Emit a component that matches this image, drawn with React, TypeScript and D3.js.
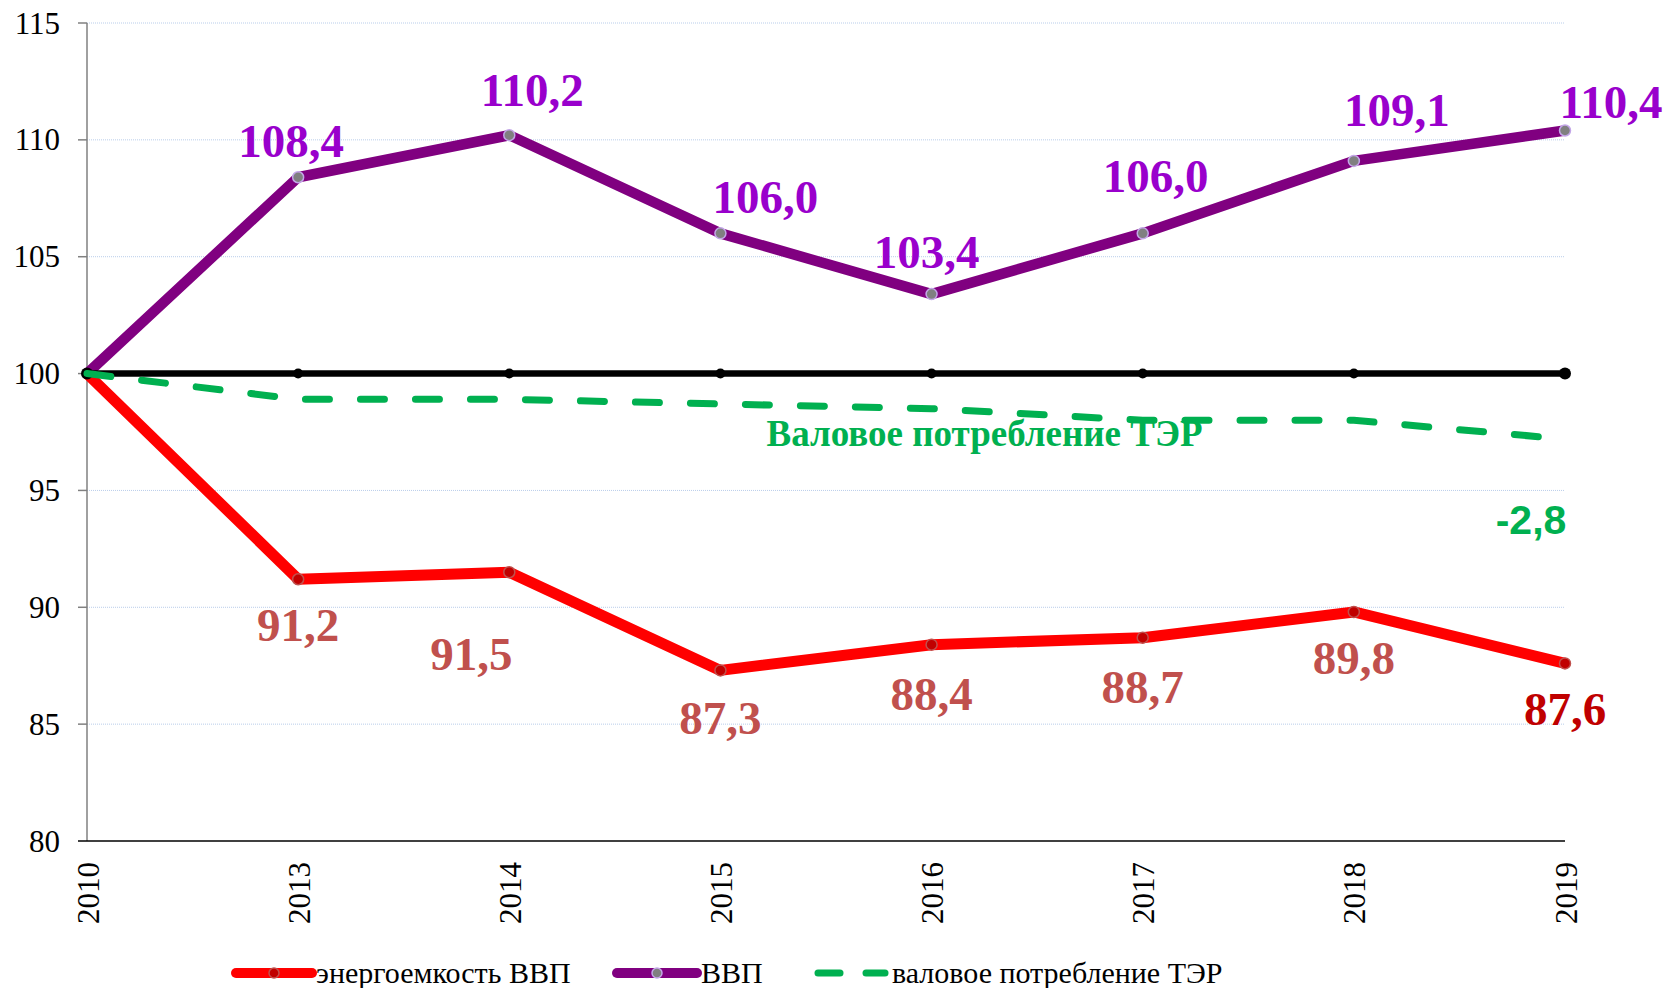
import React from "react";
import * as d3 from "d3";

// data
const years = ["2010", "2013", "2014", "2015", "2016", "2017", "2018", "2019"];
const gdp = [100, 108.4, 110.2, 106.0, 103.4, 106.0, 109.1, 110.4];
const energyIntensity = [100, 91.2, 91.5, 87.3, 88.4, 88.7, 89.8, 87.6];
const grossConsumption = [100, 98.9, 98.9, 98.7, 98.5, 98.0, 98.0, 97.2];
const baseLine = [100, 100, 100, 100, 100, 100, 100, 100];
const yTicks = [80, 85, 90, 95, 100, 105, 110, 115];
const legendNames = ["энергоемкость ВВП", "ВВП", "валовое потребление ТЭР"];
const consumptionTitle = "Валовое потребление ТЭР";
const consumptionChange = "-2,8";

// label nudges (px) relative to each point, like Excel's hand-moved labels
const gdpLabelDx = [0, -7, 23, 45, -5, 13, 43, 46];
const gdpLabelDy = [0, -20, -29, -20, -26, -41, -35, -13];
const energyLabelDx = [0, 0, -38, 0, 0, 0, 0, 0];
const energyLabelDy = [0, 62, 98, 64, 65, 65, 62, 62];

const W = 1668;
const H = 988;
const serif = "'Liberation Serif', 'Times New Roman', serif";

const fmt = (v: number) => v.toFixed(1).replace(".", ",");

export default function App() {
  const x = d3.scalePoint<string>().domain(years).range([87, 1565]);
  const y = d3.scaleLinear().domain([80, 115]).range([841, 23]);

  const line = d3
    .line<number>()
    .x((_, i) => x(years[i])!)
    .y((d) => y(d));

  const last = years.length - 1;

  return (
    <svg
      width={W}
      height={H}
      style={{ position: "absolute", left: 0, top: 0, background: "#fff" }}
      fontFamily={serif}
    >
      {/* grid */}
      {yTicks
        .filter((t) => t > 80)
        .map((t) => (
          <line
            key={"g" + t}
            x1={x(years[0])}
            x2={x(years[last])}
            y1={y(t)}
            y2={y(t)}
            stroke="#b9cdea"
            strokeWidth={1}
            strokeDasharray="1,1"
          />
        ))}

      {/* axes */}
      <line x1={87} x2={87} y1={y(115)} y2={y(80)} stroke="#808080" strokeWidth={1.5} />
      {yTicks.map((t) => (
        <g key={"t" + t}>
          <line x1={78} x2={87} y1={y(t)} y2={y(t)} stroke={t === 80 ? "#000" : "#808080"} strokeWidth={1.5} />
          <text x={60} y={y(t)} textAnchor="end" dominantBaseline="central" fontSize={31}>
            {t}
          </text>
        </g>
      ))}
      <line x1={x(years[0])} x2={x(years[last])} y1={y(80)} y2={y(80)} stroke="#000" strokeWidth={1.5} />
      {years.map((yr) => (
        <text
          key={"x" + yr}
          transform={`translate(${x(yr)! + 1},${y(80) + 21}) rotate(-90)`}
          textAnchor="end"
          dominantBaseline="central"
          fontSize={31}
        >
          {yr}
        </text>
      ))}

      {/* series */}
      <path d={line(energyIntensity)!} fill="none" stroke="#ff0000" strokeWidth={11} strokeLinejoin="round" />
      {energyIntensity.map((v, i) =>
        i === 0 ? null : (
          <circle key={"em" + i} cx={x(years[i])} cy={y(v)} r={5.5} fill="#c00000" stroke="#c0504d" strokeWidth={1.5} />
        )
      )}
      <path d={line(gdp)!} fill="none" stroke="#800080" strokeWidth={10.5} strokeLinejoin="round" />
      {gdp.map((v, i) =>
        i === 0 ? null : (
          <circle key={"gm" + i} cx={x(years[i])} cy={y(v)} r={5.5} fill="#808080" stroke="#c3a6e8" strokeWidth={1.5} />
        )
      )}
      <path d={line(baseLine)!} fill="none" stroke="#000" strokeWidth={6.5} />
      {baseLine.map((v, i) => (
        <circle key={"bm" + i} cx={x(years[i])} cy={y(v)} r={i === 0 || i === last ? 6 : 5} fill="#000" />
      ))}
      <path
        d={line(grossConsumption)!}
        fill="none"
        stroke="#00b050"
        strokeWidth={7}
        strokeDasharray="24,31"
        strokeLinecap="round"
      />

      {/* data labels */}
      {gdp.map((v, i) =>
        i === 0 ? null : (
          <text
            key={"gl" + i}
            x={x(years[i])! + gdpLabelDx[i]}
            y={y(v) + gdpLabelDy[i]}
            textAnchor="middle"
            fontSize={47}
            fontWeight="bold"
            fill="#9900cc"
          >
            {fmt(v)}
          </text>
        )
      )}
      {energyIntensity.map((v, i) =>
        i === 0 ? null : (
          <text
            key={"el" + i}
            x={x(years[i])! + energyLabelDx[i]}
            y={y(v) + energyLabelDy[i]}
            textAnchor="middle"
            fontSize={47}
            fontWeight="bold"
            fill={i === last ? "#c00000" : "#c0504d"}
          >
            {fmt(v)}
          </text>
        )
      )}
      <text
        x={x(years[4])! + 53}
        y={y(96.9)}
        textAnchor="middle"
        fontSize={37}
        fontWeight="bold"
        fill="#00b050"
      >
        {consumptionTitle}
      </text>
      <text
        x={x(years[last])! - 34}
        y={y(grossConsumption[last]) + 95}
        textAnchor="middle"
        fontSize={41}
        fontWeight="bold"
        fill="#00b050"
        fontFamily="'Liberation Sans', Arial, sans-serif"
      >
        {consumptionChange}
      </text>

      {/* legend */}
      <g fontSize={30}>
        <line x1={236} x2={312} y1={973} y2={973} stroke="#ff0000" strokeWidth={10} strokeLinecap="round" />
        <circle cx={274} cy={973} r={5} fill="#c00000" stroke="#c0504d" strokeWidth={1.5} />
        <text x={316} y={983}>{legendNames[0]}</text>

        <line x1={617} x2={697} y1={973} y2={973} stroke="#800080" strokeWidth={10} strokeLinecap="round" />
        <circle cx={657} cy={973} r={5} fill="#808080" stroke="#c3a6e8" strokeWidth={1.5} />
        <text x={701} y={983}>{legendNames[1]}</text>

        <line x1={818} x2={840} y1={973} y2={973} stroke="#00b050" strokeWidth={7} strokeLinecap="round" />
        <line x1={866} x2={885} y1={973} y2={973} stroke="#00b050" strokeWidth={7} strokeLinecap="round" />
        <text x={892} y={983}>{legendNames[2]}</text>
      </g>
    </svg>
  );
}
